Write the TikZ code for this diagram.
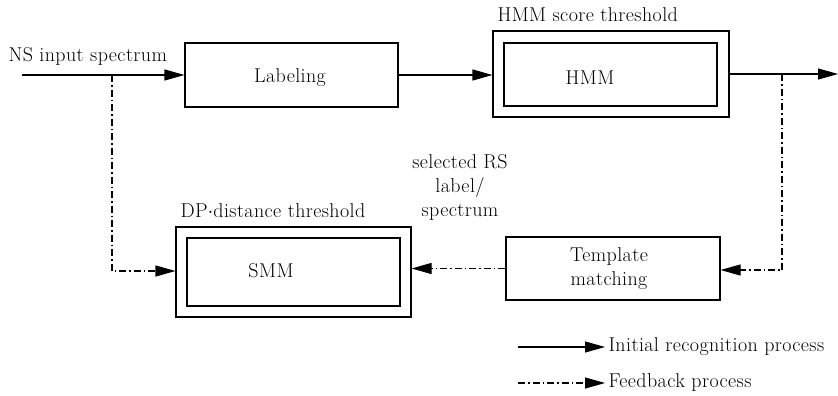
\documentclass[tikz,border=0pt]{standalone}
\usepackage{fontspec}
\setmainfont{Latin Modern Roman}[LetterSpace=2]
\usetikzlibrary{arrows.meta}
\begin{document}
\begin{tikzpicture}[x=1pt,y=-1pt,
  font=\fontsize{20}{24}\selectfont,
  line width=1.1pt,
  box/.style={draw, inner sep=0pt},
  txt/.style={inner sep=0pt},
  tip/.style={-{Triangle[length=20pt,width=11pt]}},
  fb/.style={tip, dash pattern=on 7pt off 3pt on 1.5pt off 3pt}]
\useasboundingbox (0,0) rectangle (838,396);
% boxes
\node[box, minimum width=213pt, minimum height=64pt] (lab) at (291.5,75) {};
\node[txt] (labt) at (290,78) {Labeling};
\node[box, minimum width=236pt, minimum height=86pt] (hmmo) at (611,74) {};
\node[box, minimum width=213pt, minimum height=63pt] (hmmi) at (610.5,74.5) {};
\node[txt] (hmmt) at (590,78) {HMM};
\node[box, minimum width=235pt, minimum height=90pt] (smmo) at (293.5,272) {};
\node[box, minimum width=213pt, minimum height=68pt] (smmi) at (293.5,272) {};
\node[txt] (smmt) at (271,271) {SMM};
\node[box, minimum width=214pt, minimum height=63pt] (tm) at (613,268.5) {};
\node[txt, align=center] (tmt) at (609,269) {Template\\matching};
% labels
\node[txt, anchor=base west] (ns) at (8,62) {NS input spectrum};
\node[txt, anchor=base west] (hst) at (497,22) {HMM score threshold};
\node[txt, anchor=base west] (dpt) at (180,217) {DP$\cdot$distance threshold};
\node[txt, align=center] (sel) at (460,187) {selected RS\\label/\\spectrum};
% coordinates
\coordinate (in) at (22,75);
\coordinate (fbl) at (112,75);
\coordinate (fbld) at (112,271);
\coordinate (out) at (838,74);
\coordinate (fbr) at (782,74);
\coordinate (fbrd) at (782,270);
% main flow
\draw[tip] (in) -- (lab.west);
\draw[tip] (lab.east) -- (lab.east -| hmmo.west);
\draw[tip] (hmmo.east) -- (out);
% feedback
\draw[fb] (fbl) -- (fbld) -- (fbld -| smmo.west);
\draw[fb] (fbr) -- (fbrd) -- (fbrd -| tm.east);
\draw[fb] (tm.west) -- (tm.west -| smmo.east);
% legend
\coordinate (l1a) at (518,347);
\coordinate (l1b) at (605,347);
\coordinate (l2a) at (518,383);
\coordinate (l2b) at (605,383);
\draw[tip] (l1a) -- (l1b);
\draw[fb] (l2a) -- (l2b);
\node[txt, anchor=west] (l1t) at (608,347) {Initial recognition process};
\node[txt, anchor=west] (l2t) at (608,383) {Feedback process};
\end{tikzpicture}
\end{document}
